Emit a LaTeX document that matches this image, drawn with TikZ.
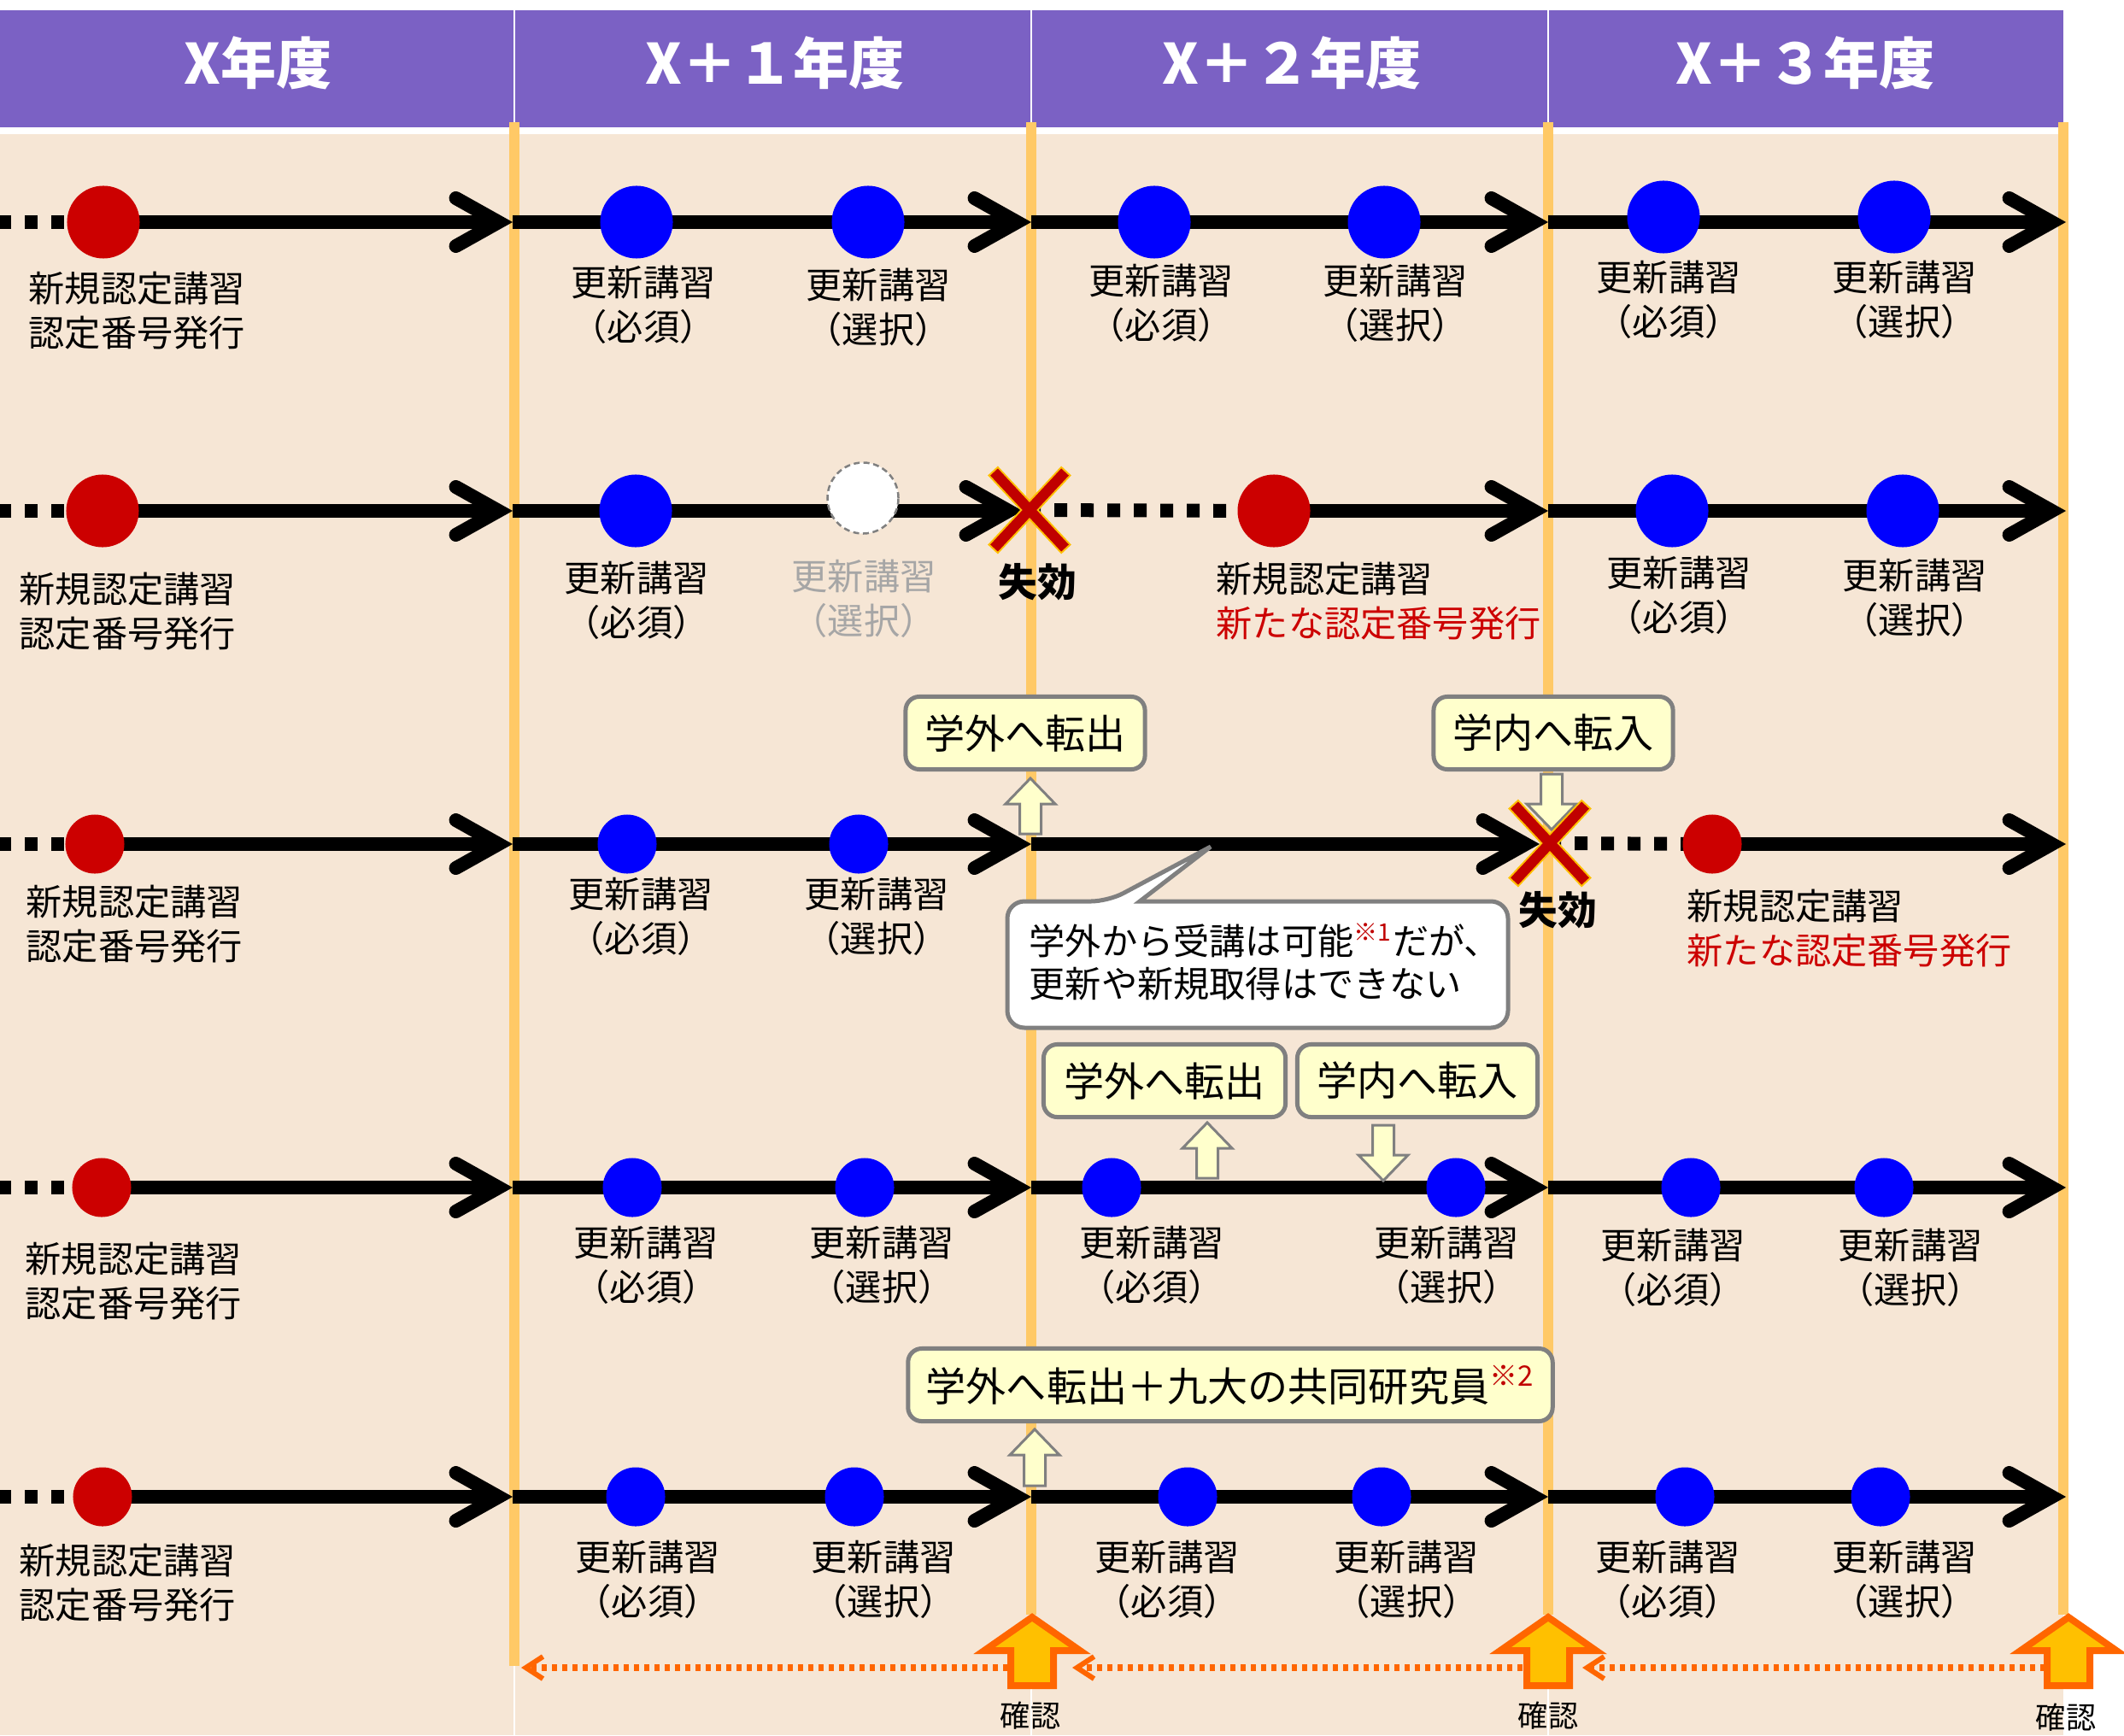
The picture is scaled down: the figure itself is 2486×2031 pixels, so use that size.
\documentclass[tikz,border=0pt]{standalone}
\usepackage{fontspec}
\setmainfont{Noto Sans CJK JP}
\usepackage{xcolor}
\usetikzlibrary{arrows.meta}

\definecolor{hdrpurple}{HTML}{7B61C4}
\definecolor{bgbeige}{HTML}{F6E6D5}
\definecolor{yearorange}{HTML}{FFC966}
\definecolor{newred}{HTML}{CC0000}
\definecolor{xred}{HTML}{C00000}
\definecolor{xgold}{HTML}{FFC000}
\definecolor{boxfill}{HTML}{FFFFCC}
\definecolor{boxgray}{HTML}{808080}
\definecolor{chkorange}{HTML}{FF6600}
\definecolor{chkfill}{HTML}{FFC000}
\definecolor{skipgray}{HTML}{A6A6A6}

\tikzset{
  yearhdr/.style={text=white, font=\fontsize{18.5}{22}\selectfont\bfseries, inner sep=0pt},
  yearline/.style={yearorange, line width=0.12cm},
  tl/.style={line width=0.16cm, -{Straight Barb[length=0.5cm, width=0.56cm, line width=0.16cm, line cap=round, line join=miter]}},
  tldots/.style={line width=0.16cm, dash pattern=on 0.15cm off 0.16cm, dash phase=0.02cm},
  bigdot/.style={circle, inner sep=0pt, minimum size=0.85cm},
  smalldot/.style={circle, inner sep=0pt, minimum size=0.69cm},
  skipdot/.style={circle, inner sep=0pt, minimum size=0.83cm, fill=white, draw=boxgray, line width=0.025cm, dash pattern=on 0.07cm off 0.045cm},
  lbl/.style={align=center, font=\fontsize{12}{14.8}\selectfont, inner sep=0pt},
  lbll/.style={align=left, font=\fontsize{12}{14.8}\selectfont, inner sep=0pt, anchor=west},
  lapse/.style={font=\fontsize{13}{15}\selectfont\bfseries, inner sep=0pt},
  movebox/.style={draw=boxgray, line width=0.05cm, fill=boxfill, rounded corners=0.16cm, font=\fontsize{13.4}{16}\selectfont, inner sep=0pt, minimum height=0.85cm},
  callout/.style={draw=boxgray, line width=0.05cm, fill=white},
  hollowarr/.style={draw=boxgray, line width=0.03cm, fill=boxfill, line join=miter},
  checkarr/.style={draw=chkorange, line width=0.08cm, fill=chkfill, line join=miter},
  checkline/.style={chkorange, line width=0.075cm, dash pattern=on 0.06cm off 0.06cm, -{Straight Barb[length=0.2cm, width=0.26cm, line width=0.06cm]}},
  chk/.style={font=\fontsize{10}{12}\selectfont, inner sep=0pt},
  pics/blockarr/.style n args={5}{code={
    \path[#5] (0,0) -- (#3,#2) -- (#4,#2) -- (#4,#1) -- (-#4,#1) -- (-#4,#2) -- (-#3,#2) -- cycle;}},
  pics/lapsex/.style={code={
    \draw[xgold, line width=0.16cm] (-43,-46) -- (43,46) (-43,46) -- (43,-46);
    \draw[xred, line width=0.12cm] (-41.5,-44.5) -- (41.5,44.5) (-41.5,44.5) -- (41.5,-44.5);}},
}

\begin{document}
\begin{tikzpicture}[x=0.01cm, y=-0.01cm]
\useasboundingbox (0,0) rectangle (2486,2031);
\fill[white] (0,0) rectangle (2486,2031);

% header and background
\fill[hdrpurple] (0,12) rectangle (2415,149);
\fill[bgbeige] (0,157) rectangle (2415,2031);
\foreach \x in {602,1207,1812}
  \draw[white, line width=0.02cm] (\x,12) -- (\x,2031);
\node[yearhdr] (h0) at (302,74) {X年度};
\node[yearhdr] (h1) at (907,74) {X＋１年度};
\node[yearhdr] (h2) at (1512,74) {X＋２年度};
\node[yearhdr] (h3) at (2113,74) {X＋３年度};

% year boundaries
\draw[yearline] (602,143) -- (602,1950);
\foreach \x in {1207,1812,2415}
  \draw[yearline] (\x,143) -- (\x,1890);

% row 1
\coordinate (r1s) at (0,260);
\coordinate (r1n) at (121,260);
\coordinate (r1y1) at (600,260);
\coordinate (r1y2) at (1207,260);
\coordinate (r1y3) at (1812,260);
\coordinate (r1y4) at (2418,260);
\draw[tldots] (r1s) -- (r1n);
\draw[tl] (r1n) -- (r1y1);
\draw[tl] (r1y1) -- (r1y2);
\draw[tl] (r1y2) -- (r1y3);
\draw[tl] (r1y3) -- (r1y4);
\node[bigdot, fill=newred] (r1new) at (r1n) {};
\foreach \x/\y in {745/260, 1016/260, 1351/260, 1620/260, 1947/254, 2217/254}
  \node[bigdot, fill=blue] (r1d\x) at (\x,\y) {};
\node[lbll] (r1l0) at (33,364) {新規認定講習\\認定番号発行};
\foreach \x/\y/\t in {753/357/必須, 1028/360/選択, 1359/355/必須, 1633/355/選択, 1953/351/必須, 2229/351/選択}
  \node[lbl] (r1l\x) at (\x,\y) {更新講習\\（\t）};

% row 2
\coordinate (r2s) at (0,598);
\coordinate (r2n) at (120,598);
\coordinate (r2y1) at (600,598);
\coordinate (r2stop) at (1197,598);
\coordinate (r2x) at (1205,597);
\coordinate (r2n2) at (1491,598);
\coordinate (r2y3) at (1812,598);
\coordinate (r2y4) at (2418,598);
\draw[tldots] (r2s) -- (r2n);
\draw[tl] (r2n) -- (r2y1);
\draw[tl] (r2y1) -- (r2stop);
\draw[tldots] (r2x) -- (r2n2);
\draw[tl] (r2n2) -- (r2y3);
\draw[tl] (r2y3) -- (r2y4);
\node[bigdot, fill=newred] (r2new) at (r2n) {};
\node[bigdot, fill=blue] (r2d1) at (744,598) {};
\node[skipdot] (r2skip) at (1010,583) {};
\node[bigdot, fill=newred] (r2new2) at (r2n2) {};
\node[bigdot, fill=blue] (r2d3) at (1957,598) {};
\node[bigdot, fill=blue] (r2d4) at (2227,598) {};
\pic at (r2x) {lapsex};
\node[lapse] (r2lapse) at (1214,681) {失効};
\node[lbll] (r2l0) at (22,716) {新規認定講習\\認定番号発行};
\node[lbl] (r2l1) at (745,703) {更新講習\\（必須）};
\node[lbl, text=skipgray] (r2l2) at (1011,701) {更新講習\\（選択）};
\node[lbll] (r2l3) at (1423,704) {新規認定講習\\{\color{newred}新たな認定番号発行}};
\node[lbl] (r2l4) at (1965,697) {更新講習\\（必須）};
\node[lbl] (r2l5) at (2241,700) {更新講習\\（選択）};

% row 3
\coordinate (r3s) at (0,988);
\coordinate (r3n) at (111,988);
\coordinate (r3y1) at (600,988);
\coordinate (r3y2) at (1207,988);
\coordinate (r3stop) at (1802,988);
\coordinate (r3x) at (1814,987);
\coordinate (r3n2) at (2004,988);
\coordinate (r3y4) at (2418,988);
\draw[tldots] (r3s) -- (r3n);
\draw[tl] (r3n) -- (r3y1);
\draw[tl] (r3y1) -- (r3y2);
\draw[tl] (r3y2) -- (r3stop);
\draw[tldots] (r3x) -- (r3n2);
\draw[tl] (r3n2) -- (r3y4);
\node[smalldot, fill=newred] (r3new) at (r3n) {};
\node[smalldot, fill=blue] (r3d1) at (734,988) {};
\node[smalldot, fill=blue] (r3d2) at (1005,988) {};
\node[smalldot, fill=newred] (r3new2) at (r3n2) {};
\node[lbll] (r3l0) at (30,1082) {新規認定講習\\認定番号発行};
\node[lbl] (r3l1) at (750,1073) {更新講習\\（必須）};
\node[lbl] (r3l2) at (1026,1073) {更新講習\\（選択）};
\node[lbll] (r3l3) at (1974,1087) {新規認定講習\\{\color{newred}新たな認定番号発行}};

\node[movebox, minimum width=2.8cm] (r3out) at (1200,858) {学外へ転出};
\node[movebox, minimum width=2.8cm] (r3in) at (1818,858) {学内へ転入};
\pic at (1206,911) {blockarr={65}{30}{29}{12.5}{hollowarr}};
\pic[rotate=180] at (1816,971) {blockarr={65}{30}{29}{12.5}{hollowarr}};
\pic at (r3x) {lapsex};
\node[lapse] (r3lapse) at (1823,1065) {失効};

\draw[callout] (1179,1130) [rounded corners=0.2cm] -- (1179,1055) -- (1297,1055) [sharp corners] -- (1417,991) -- (1334,1055) [rounded corners=0.2cm] -- (1765,1055) -- (1765,1203) -- (1179,1203) -- cycle;
\node[lbll, font=\fontsize{12}{14.3}\selectfont] (note) at (1204,1126) {学外から受講は可能{\color{xred}\textsuperscript{※1}}だが、\\更新や新規取得はできない};

% row 4
\coordinate (r4s) at (0,1390);
\coordinate (r4n) at (119,1390);
\coordinate (r4y1) at (600,1390);
\coordinate (r4y2) at (1207,1390);
\coordinate (r4y3) at (1812,1390);
\coordinate (r4y4) at (2418,1390);
\draw[tldots] (r4s) -- (r4n);
\draw[tl] (r4n) -- (r4y1);
\draw[tl] (r4y1) -- (r4y2);
\draw[tl] (r4y2) -- (r4y3);
\draw[tl] (r4y3) -- (r4y4);
\node[smalldot, fill=newred] (r4new) at (r4n) {};
\foreach \x in {740, 1012, 1301, 1704, 1979, 2205}
  \node[smalldot, fill=blue] (r4d\x) at (\x,1390) {};
\node[lbll] (r4l0) at (29,1500) {新規認定講習\\認定番号発行};
\foreach \x/\y/\t in {756/1481/必須, 1032/1481/選択, 1348/1481/必須, 1693/1481/選択, 1958/1484/必須, 2236/1484/選択}
  \node[lbl] (r4l\x) at (\x,\y) {更新講習\\（\t）};

\node[movebox, minimum width=2.83cm] (r4out) at (1363,1265) {学外へ転出};
\node[movebox, minimum width=2.81cm] (r4in) at (1659,1265) {学内へ転入};
\pic at (1413,1314) {blockarr={65}{30}{29}{12.5}{hollowarr}};
\pic[rotate=180] at (1619,1382) {blockarr={65}{30}{29}{12.5}{hollowarr}};

% row 5
\coordinate (r5s) at (0,1752);
\coordinate (r5n) at (120,1752);
\coordinate (r5y1) at (600,1752);
\coordinate (r5y2) at (1207,1752);
\coordinate (r5y3) at (1812,1752);
\coordinate (r5y4) at (2418,1752);
\draw[tldots] (r5s) -- (r5n);
\draw[tl] (r5n) -- (r5y1);
\draw[tl] (r5y1) -- (r5y2);
\draw[tl] (r5y2) -- (r5y3);
\draw[tl] (r5y3) -- (r5y4);
\node[smalldot, fill=newred] (r5new) at (r5n) {};
\foreach \x in {744, 1000, 1390, 1617, 1972, 2201}
  \node[smalldot, fill=blue] (r5d\x) at (\x,1752) {};
\node[lbll] (r5l0) at (22,1853) {新規認定講習\\認定番号発行};
\foreach \x/\y/\t in {758/1849/必須, 1034/1849/選択, 1366/1849/必須, 1646/1849/選択, 1952/1849/必須, 2229/1849/選択}
  \node[lbl] (r5l\x) at (\x,\y) {更新講習\\（\t）};

\node[movebox, minimum width=7.54cm] (r5out) at (1440,1621) {学外へ転出＋九大の共同研究員{\color{xred}\textsuperscript{※2}}};
\pic at (1211,1673) {blockarr={66}{30}{29}{12.5}{hollowarr}};

% confirmation
\coordinate (k1) at (1208,1893);
\coordinate (k2) at (1812,1893);
\coordinate (k3) at (2421,1893);
\coordinate (d0e) at (610,1952);
\coordinate (d0s) at (1180,1952);
\coordinate (d1e) at (1255,1952);
\coordinate (d1s) at (1782,1952);
\coordinate (d2e) at (1852,1952);
\coordinate (d2s) at (2394,1952);
\draw[checkline] (d0s) -- (d0e);
\draw[checkline] (d1s) -- (d1e);
\draw[checkline] (d2s) -- (d2e);
\foreach \k in {k1,k2,k3}
  \pic at (\k) {blockarr={80}{39}{56}{25}{checkarr}};
\node[chk] (c1) at (1206,2008) {確認};
\node[chk] (c2) at (1812,2008) {確認};
\node[chk] (c3) at (2418,2010) {確認};

\end{tikzpicture}
\end{document}
